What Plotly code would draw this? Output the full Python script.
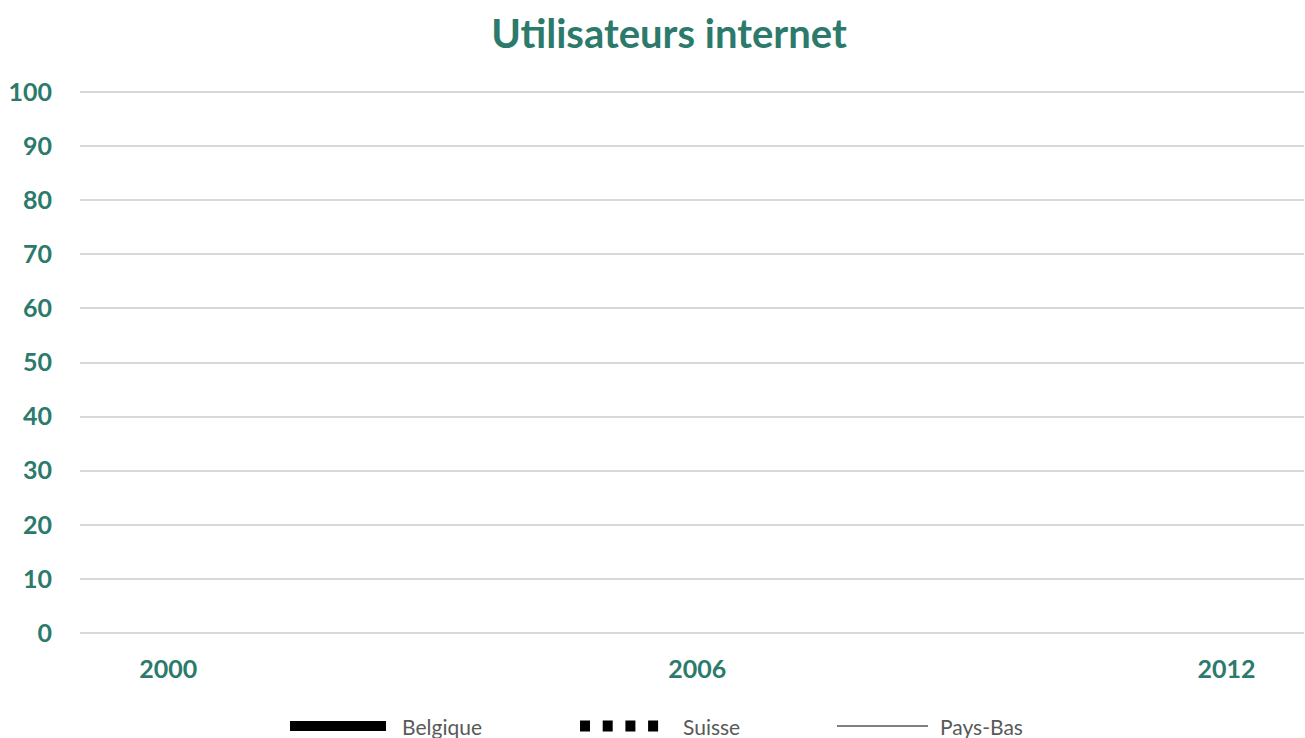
import plotly.graph_objects as go

# ---- data ----
years = [2000, 2006, 2012]
tick_years = [2000, 2006, 2012]
belgique = [None, None, None]
suisse = [None, None, None]
pays_bas = [None, None, None]
y_ticks = [0, 10, 20, 30, 40, 50, 60, 70, 80, 90, 100]
series_names = ["Belgique", "Suisse", "Pays-Bas"]

TEAL = "#2B7A6B"
GRID = "#D9D9D9"
FONT = "Lato"

fig = go.Figure()
fig.add_trace(go.Scatter(x=years, y=belgique, mode="lines", name=series_names[0],
                         line=dict(color="black", width=10), showlegend=False))
fig.add_trace(go.Scatter(x=years, y=suisse, mode="lines", name=series_names[1],
                         line=dict(color="black", width=10, dash="10px,12.7px"), showlegend=False))
fig.add_trace(go.Scatter(x=years, y=pays_bas, mode="lines", name=series_names[2],
                         line=dict(color="black", width=1), showlegend=False))

W, H = 1305, 738
ml, mr, mt, mb = 80, 1, 91, 105

fig.update_layout(
    width=W, height=H,
    margin=dict(l=ml, r=mr, t=mt, b=mb, autoexpand=False),
    paper_bgcolor="white", plot_bgcolor="white",
    font=dict(family=FONT),
    title=dict(text="<b>Utilisateurs internet</b>", x=669 / W, xanchor="center",
               y=1 - 34 / H, yanchor="middle", xref="container", yref="container",
               font=dict(size=40, color=TEAL, family=FONT)),
    xaxis=dict(range=[1999.0, 2012.88], tickmode="array", tickvals=tick_years,
               ticktext=[str(t) for t in tick_years], showgrid=False, zeroline=False,
               showline=False, ticks="outside", ticklen=14, tickcolor="rgba(0,0,0,0)",
               tickfont=dict(size=25, color=TEAL, family=FONT, weight="bold")),
    yaxis=dict(range=[0, 100.2], tickmode="array", tickvals=y_ticks, showgrid=True,
               gridcolor=GRID, gridwidth=1.5, zeroline=True, zerolinecolor=GRID,
               zerolinewidth=1.5, showline=False, ticks="outside", ticklen=22,
               tickcolor="rgba(0,0,0,0)",
               tickfont=dict(size=25, color=TEAL, family=FONT, weight="bold")),
    showlegend=False,
)

# ---- custom legend (long line samples as in the original) ----
pw = W - ml - mr
ph = H - mt - mb
leg_y = 726
yp = -(leg_y - (H - mb)) / ph
legend_items = [
    # (sample x0, sample x1, text x, width, dash)
    (290, 386, 400, 10, "solid"),
    (580, 662, 681, 11, "10px,12.7px"),
    (837, 928, 938, 1, "solid"),
]
for name, (x0, x1, tx, w, dash) in zip(series_names, legend_items):
    fig.add_shape(type="line", xref="paper", yref="paper",
                  x0=(x0 - ml) / pw, x1=(x1 - ml) / pw, y0=yp, y1=yp,
                  line=dict(color="black", width=w, dash=dash))
    fig.add_annotation(text=name, xref="paper", yref="paper",
                       x=(tx - ml) / pw, y=yp,
                       xanchor="left", yanchor="middle", showarrow=False,
                       font=dict(size=21, color="#595959", family=FONT))

fig.write_html("out.html", config={"displayModeBar": False},
               post_script="document.body.style.margin='0px';document.body.style.overflow='hidden';")
